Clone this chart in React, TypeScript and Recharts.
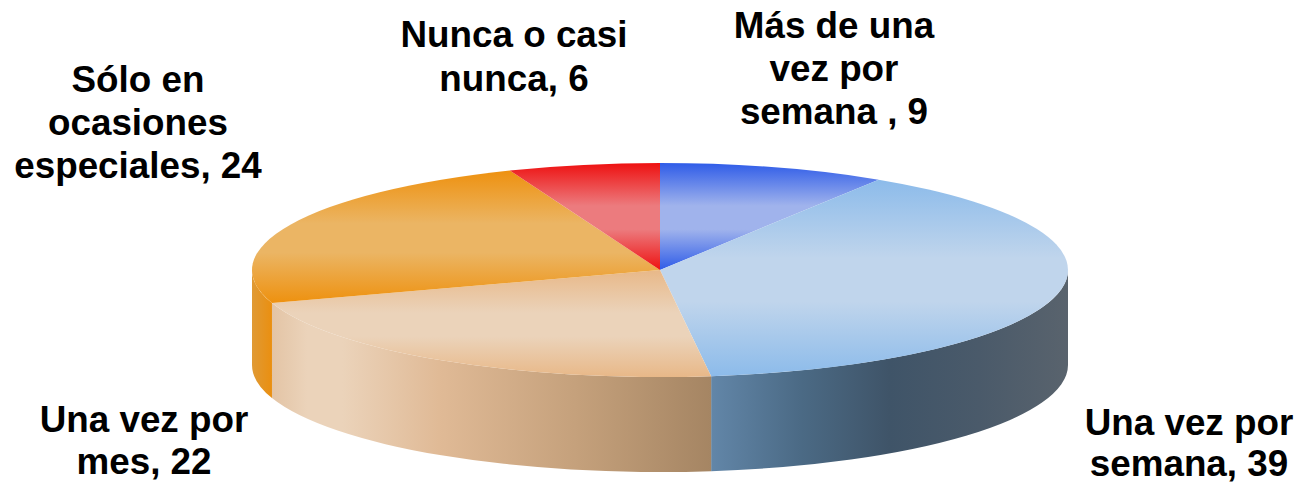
import { PieChart, Pie } from 'recharts'

const categories = ['Más de una vez por semana ', 'Una vez por semana', 'Una vez por mes', 'Sólo en ocasiones especiales', 'Nunca o casi nunca']
const values = [9, 39, 22, 24, 6]
const labelLines = [
  ['Más de una', 'vez por', 'semana , 9'],
  ['Una vez por', 'semana, 39'],
  ['Una vez por', 'mes, 22'],
  ['Sólo en', 'ocasiones', 'especiales, 24'],
  ['Nunca o casi', 'nunca, 6'],
]

// centre x / first baseline / line gap of each label block
const labelAnchors = [
  [834, 38, 43],
  [1189, 435, 41],
  [144, 432, 42],
  [138, 92, 43],
  [514, 47, 44],
]

// edge, middle colours of the top face
const topColors = [
  ['#2f5ce8', '#a0b3ec'],
  ['#8cbbea', '#c0d5ec'],
  ['#e8b888', '#ebd3ba'],
  ['#ee910f', '#ebb564'],
  ['#ee1111', '#ec7b7e'],
]
// stops of the side wall, left to right: [offset, colour]
const wallColors: [number, string][][] = [
  [[0, '#3f5468'], [1, '#3f5468']],
  [[0, '#6286a8'], [0.25, '#4b6a85'], [0.5, '#3f5468'], [0.75, '#4a5a6a'], [1, '#59636d']],
  [[0, '#e3c4a5'], [0.08, '#ebd3ba'], [0.16, '#ebd3ba'], [0.38, '#e0ba96'], [0.7, '#c4a07b'], [1, '#a58563']],
  [[0, '#e09a35'], [1, '#ea8f10']],
  [[0, '#ee1111'], [1, '#ee1111']],
]

const rows = categories.map((name, i) => ({ name, value: values[i], slot: i }))

const CX = 660
const CY = 270
const RX = 408
const RY = 107
const DEPTH = 95

const pointAt = (clock: number, drop = 0) => {
  const a = (clock * Math.PI) / 180
  return `${CX + RX * Math.sin(a)} ${CY - RY * Math.cos(a) + drop}`
}

function Slice(props: any) {
  const slot = props.slot ?? props.payload?.slot
  const c1 = 90 - props.startAngle
  const c2 = 90 - props.endAngle
  const large = c2 - c1 > 180 ? 1 : 0
  const from = Math.max(c1, 90)
  const to = Math.min(c2, 270)
  const top = `M${CX} ${CY} L${pointAt(c1)} A${RX} ${RY} 0 ${large} 1 ${pointAt(c2)} Z`
  const wall =
    from < to
      ? `M${pointAt(from)} A${RX} ${RY} 0 0 1 ${pointAt(to)} L${pointAt(to, DEPTH)} A${RX} ${RY} 0 0 0 ${pointAt(from, DEPTH)} Z`
      : null
  return (
    <g>
      {wall && <path d={wall} fill={`url(#wall${slot})`} />}
      <path d={top} fill={`url(#top${slot})`} />
    </g>
  )
}

function SliceLabel(props: any) {
  const [x, y, gap] = labelAnchors[props.index]
  return (
    <text x={x} y={y} textAnchor="middle" fontFamily="Liberation Sans" fontWeight="bold" fontSize={36.8} fill="#000">
      {labelLines[props.index].map((line, i) => (
        <tspan key={i} x={x} y={y + i * gap}>
          {line}
        </tspan>
      ))}
    </text>
  )
}

export default function App() {
  return (
    <div style={{ position: 'absolute', left: 0, top: 0, width: 1299, height: 483, background: '#fff' }}>
      <PieChart width={1299} height={483} margin={{ top: 0, right: 0, bottom: 0, left: 0 }}>
        <defs>
          {topColors.map(([edge, mid], i) => (
            <linearGradient key={i} id={`top${i}`} x1="0" y1="0" x2="0" y2="1">
              <stop offset="0" stopColor={edge} />
              <stop offset="0.4" stopColor={mid} />
              <stop offset="0.62" stopColor={mid} />
              <stop offset="1" stopColor={edge} />
            </linearGradient>
          ))}
          {wallColors.map((stops, i) => (
            <linearGradient key={i} id={`wall${i}`} x1="0" y1="0" x2="1" y2="0">
              {stops.map(([offset, c], j) => (
                <stop key={j} offset={offset} stopColor={c} />
              ))}
            </linearGradient>
          ))}
        </defs>
        <Pie
          data={rows}
          dataKey="value"
          nameKey="name"
          cx={CX}
          cy={CY}
          outerRadius={RX}
          startAngle={90}
          endAngle={-270}
          stroke="none"
          shape={Slice}
          label={SliceLabel}
          labelLine={false}
          isAnimationActive={false}
        />
      </PieChart>
    </div>
  )
}
